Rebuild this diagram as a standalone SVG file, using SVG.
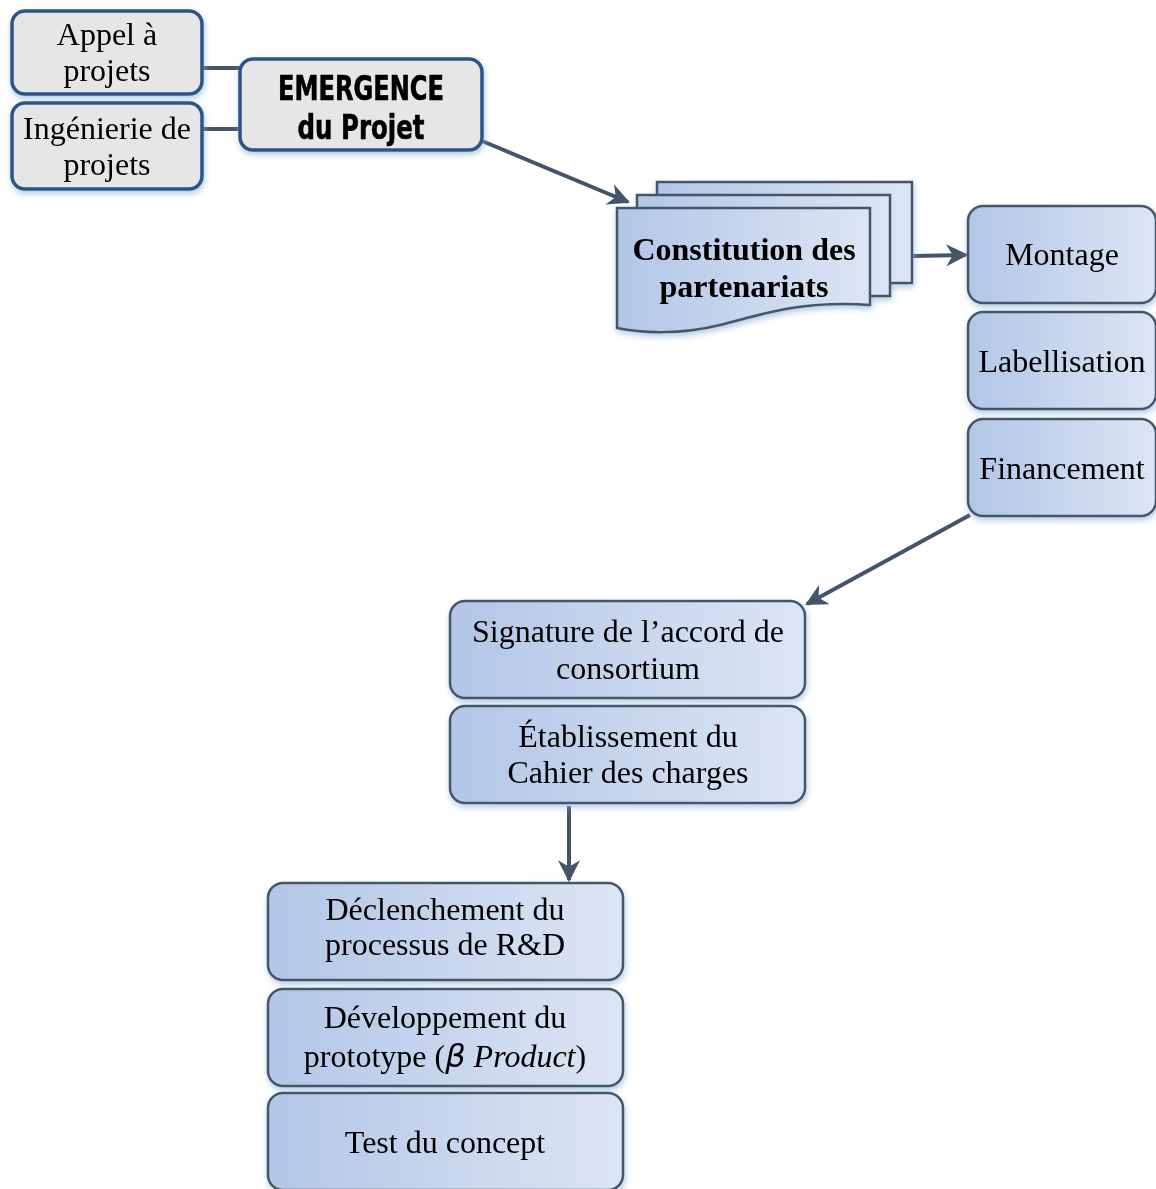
<svg xmlns="http://www.w3.org/2000/svg" width="1156" height="1189" viewBox="0 0 1156 1189">
<defs>
<linearGradient id="g" x1="0" y1="0" x2="1" y2="0">
<stop offset="0" stop-color="#b3c6e7"/>
<stop offset="1" stop-color="#dce5f3"/>
</linearGradient>
<filter id="sh" x="-10%" y="-10%" width="120%" height="125%">
<feGaussianBlur in="SourceAlpha" stdDeviation="3"/>
<feOffset dx="1" dy="3" result="b"/>
<feFlood flood-color="#8fb4d6" flood-opacity="0.7"/>
<feComposite in2="b" operator="in"/>
<feMerge><feMergeNode/><feMergeNode in="SourceGraphic"/></feMerge>
</filter>
<marker id="ar" viewBox="0 0 10 10" refX="9" refY="5" markerWidth="5.5" markerHeight="5.5" orient="auto" markerUnits="strokeWidth">
<path d="M0,0 L10,5 L0,10 L3,5 z" fill="#44546a"/>
</marker>
<style>
.gray{fill:#e6e6e6;stroke:#2c5489;stroke-width:3.5}
.blue{fill:url(#g);stroke:#44546a;stroke-width:2.5}
.t{font-family:"Liberation Serif",serif;font-size:32px;fill:#000;text-anchor:middle}
.b{font-weight:bold}
.em{font-family:"DejaVu Sans Condensed","DejaVu Sans",sans-serif;font-weight:bold;font-size:34px;text-anchor:middle;fill:#000;stroke:#000;stroke-width:0.6}
.c{stroke:#44546a;stroke-width:4;fill:none}
</style>
</defs>
<g id="connectors">
<line class="c" x1="202" y1="68" x2="240" y2="68"/>
<line class="c" x1="202" y1="129" x2="240" y2="129"/>
<line class="c" x1="482" y1="141" x2="628" y2="202" marker-end="url(#ar)"/>
<line class="c" x1="912" y1="256" x2="966" y2="255" marker-end="url(#ar)"/>
<line class="c" x1="970" y1="515" x2="807" y2="604" marker-end="url(#ar)"/>
<line class="c" x1="569" y1="806" x2="569" y2="880" marker-end="url(#ar)"/>
</g>
<g id="appel" filter="url(#sh)">
<rect class="gray" x="12" y="11" width="190" height="83" rx="13"/>
<text class="t" x="107" y="45">Appel à</text>
<text class="t" x="107" y="81">projets</text>
</g>
<g id="ingenierie" filter="url(#sh)">
<rect class="gray" x="12" y="103" width="190" height="86" rx="13"/>
<text class="t" x="107" y="139">Ingénierie de</text>
<text class="t" x="107" y="175">projets</text>
</g>
<g id="emergence" filter="url(#sh)">
<rect class="gray" x="240" y="59" width="242" height="91" rx="13"/>
<text class="em" x="361" y="100" textLength="166" lengthAdjust="spacingAndGlyphs">EMERGENCE</text>
<text class="em" x="361" y="139" textLength="127" lengthAdjust="spacingAndGlyphs">du Projet</text>
</g>
<g id="constitution" filter="url(#sh)">
<rect class="blue" x="657" y="182" width="255" height="101"/>
<rect class="blue" x="637" y="195" width="253" height="101"/>
<path class="blue" d="M617,208 H870 V305 C800,300 760,315 720,325 C680,335 640,333 617,328 Z"/>
<text class="t b" x="744" y="260">Constitution des</text>
<text class="t b" x="744" y="297">partenariats</text>
</g>
<g id="montage" filter="url(#sh)">
<rect class="blue" x="968" y="206" width="188" height="97" rx="15"/>
<text class="t" x="1062" y="265">Montage</text>
</g>
<g id="labellisation" filter="url(#sh)">
<rect class="blue" x="968" y="312" width="188" height="97" rx="15"/>
<text class="t" x="1062" y="372">Labellisation</text>
</g>
<g id="financement" filter="url(#sh)">
<rect class="blue" x="968" y="419" width="188" height="97" rx="15"/>
<text class="t" x="1062" y="479">Financement</text>
</g>
<g id="signature" filter="url(#sh)">
<rect class="blue" x="450" y="601" width="355" height="97" rx="15"/>
<text class="t" x="628" y="642">Signature de l’accord de</text>
<text class="t" x="628" y="679">consortium</text>
</g>
<g id="etablissement" filter="url(#sh)">
<rect class="blue" x="450" y="706" width="355" height="97" rx="15"/>
<text class="t" x="628" y="747">Établissement du</text>
<text class="t" x="628" y="783">Cahier des charges</text>
</g>
<g id="declenchement" filter="url(#sh)">
<rect class="blue" x="268" y="883" width="355" height="97" rx="15"/>
<text class="t" x="445" y="920">Déclenchement du</text>
<text class="t" x="445" y="955">processus de R&amp;D</text>
</g>
<g id="developpement" filter="url(#sh)">
<rect class="blue" x="268" y="989" width="355" height="97" rx="15"/>
<text class="t" x="445" y="1028">Développement du</text>
<text class="t" x="445" y="1067">prototype (<tspan font-family="'DejaVu Sans',sans-serif" font-style="italic">β</tspan> <tspan font-style="italic">Product</tspan>)</text>
</g>
<g id="test" filter="url(#sh)">
<rect class="blue" x="268" y="1093" width="355" height="97" rx="15"/>
<text class="t" x="445" y="1153">Test du concept</text>
</g>
</svg>
